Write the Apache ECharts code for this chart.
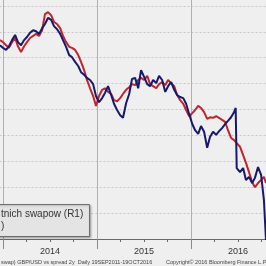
<!DOCTYPE html>
<html>
<head>
<meta charset="utf-8">
<script src="https://cdn.jsdelivr.net/npm/echarts@6/dist/echarts.min.js"></script>
<style>
html,body{margin:0;padding:0;background:#efefef;}
#c{width:266px;height:266px;}
</style>
</head>
<body>
<div id="c"></div>
<script>
// Sample dates (shared by both series)
var dates = [
'2013-12-20','2014-01-01','2014-01-13','2014-01-24','2014-02-05','2014-02-17','2014-02-28','2014-03-12','2014-03-24','2014-04-04',
'2014-04-16','2014-04-28','2014-05-09','2014-05-21','2014-06-02','2014-06-13','2014-06-25','2014-07-07','2014-07-18','2014-07-30',
'2014-08-11','2014-08-22','2014-09-03','2014-09-15','2014-09-26','2014-10-08','2014-10-20','2014-10-31','2014-11-12','2014-11-23',
'2014-12-05','2014-12-17','2014-12-28','2015-01-09','2015-01-21','2015-02-01','2015-02-13','2015-02-25','2015-03-08','2015-03-20',
'2015-04-01','2015-04-12','2015-04-24','2015-05-06','2015-05-17','2015-05-29','2015-06-10','2015-06-21','2015-07-03','2015-07-15',
'2015-07-26','2015-08-07','2015-08-19','2015-08-30','2015-09-11','2015-09-23','2015-10-04','2015-10-16','2015-10-28','2015-11-08',
'2015-11-20','2015-12-02','2015-12-13','2015-12-25','2016-01-06','2016-01-17','2016-01-29','2016-02-09','2016-02-21','2016-03-04',
'2016-03-15','2016-03-27','2016-04-08','2016-04-19','2016-05-01','2016-05-13','2016-05-24','2016-06-05','2016-06-17','2016-06-23',
'2016-06-27','2016-07-10','2016-07-22','2016-08-02','2016-08-14','2016-08-26','2016-09-06','2016-09-18','2016-09-30','2016-10-11',
'2016-10-19'
];
// Navy series
var navyValues = [
1.574,1.569,1.565,1.572,1.584,1.594,1.580,1.574,1.584,1.590,
1.598,1.603,1.601,1.596,1.607,1.615,1.627,1.623,1.611,1.605,
1.596,1.584,1.571,1.555,1.551,1.542,1.534,1.522,1.517,1.511,
1.507,1.499,1.476,1.464,1.472,1.482,1.495,1.478,1.461,1.449,
1.439,1.434,1.462,1.480,1.509,1.511,1.491,1.526,1.513,1.499,
1.495,1.507,1.501,1.515,1.507,1.484,1.495,1.503,1.488,1.478,
1.474,1.472,1.461,1.441,1.422,1.410,1.403,1.418,1.407,1.376,
1.397,1.407,1.401,1.408,1.414,1.422,1.428,1.435,1.445,1.453,
1.337,1.329,1.337,1.314,1.320,1.308,1.318,1.339,1.324,1.275,
1.198
];
// Red series
var redValues = [
1.584,1.580,1.574,1.569,1.580,1.588,1.572,1.561,1.572,1.580,
1.588,1.592,1.596,1.592,1.603,1.634,1.638,1.632,1.619,1.615,
1.607,1.592,1.580,1.571,1.569,1.565,1.555,1.542,1.526,1.507,
1.491,1.476,1.457,1.476,1.488,1.491,1.484,1.480,1.468,1.466,
1.472,1.480,1.488,1.493,1.499,1.497,1.507,1.511,1.507,1.515,
1.499,1.495,1.491,1.499,1.503,1.497,1.507,1.501,1.495,1.478,
1.468,1.461,1.449,1.437,1.443,1.449,1.457,1.453,1.445,1.432,
1.435,1.434,1.437,1.434,1.430,1.426,1.410,1.395,1.391,1.389,
1.385,1.378,1.362,1.347,1.329,1.310,1.300,1.308,1.314,1.320,
1.308
];
var yearLabels = ['2014','2015','2016'];
var legendLines = ['tnich swapow (R1)', ')'];
var captionLeft = 'swap) GBP/USD vs spread 2y  Daily 19SEP2011-19OCT2016';
var captionRight = 'Copyright\u00a9 2016 Bloomberg Finance L.P.';

function toYear(s){
  var p = s.split('-').map(Number);
  var a = Date.UTC(p[0],0,1), b = Date.UTC(p[0]+1,0,1);
  return p[0] + (Date.UTC(p[0],p[1]-1,p[2]) - a)/(b - a);
}
function pairs(vals){ return dates.map(function(d,i){ return [toYear(d), vals[i]]; }); }

var chart = echarts.init(document.getElementById('c'), null, {renderer:'canvas'});
var font = 'Liberation Sans, Arial, sans-serif';
chart.setOption({
  backgroundColor:'#efefef',
  animation:false,
  grid:[
    {left:-20.5, right:0, top:-20, bottom:27, outerBoundsMode:'none', containLabel:false},
    {left:-91, right:0, top:-20, bottom:27, outerBoundsMode:'none', containLabel:false}
  ],
  xAxis:[
    {type:'value', gridIndex:0, min:2013.75, max:2016.798, interval:0.25,
     axisLine:{show:true, onZero:false, lineStyle:{color:'#6a6a6a', width:1}},
     axisTick:{show:true, length:3, lineStyle:{color:'#6a6a6a'}},
     axisLabel:{show:true, margin:8, fontSize:9, color:'#333', fontFamily:font,
       showMinLabel:false, showMaxLabel:false,
       formatter:function(v){ var f = Math.round((v - Math.floor(v))*100); return f===50 ? yearLabels[Math.floor(v)-2014] || '' : ''; }},
     splitLine:{show:false}},
    {type:'value', gridIndex:1, min:2013, max:2016.798, interval:1,
     axisLine:{show:false, onZero:false}, axisTick:{show:true, length:10, lineStyle:{color:'#8a8a8a'}}, axisLabel:{show:false},
     splitLine:{show:true, lineStyle:{color:'#b0b0b0', width:1, type:'solid'}}}
  ],
  yAxis:[
    {type:'value', gridIndex:0, min:1.20, max:1.70, interval:0.05,
     axisLine:{show:false}, axisTick:{show:false}, axisLabel:{show:false},
     splitLine:{show:true, lineStyle:{color:'#c6c6c6', width:1, type:[2,2]}}},
    {type:'value', gridIndex:1, min:0, max:1, axisLine:{show:false}, axisTick:{show:false}, axisLabel:{show:false}, splitLine:{show:false}}
  ],
  series:[
    {type:'line', xAxisIndex:0, yAxisIndex:0, data:pairs(redValues), showSymbol:false, symbol:'none',
     lineStyle:{color:'#c0252c', width:2}, z:3},
    {type:'line', xAxisIndex:0, yAxisIndex:0, data:pairs(navyValues), showSymbol:false, symbol:'none',
     lineStyle:{color:'#17196c', width:2}, z:4}
  ],
  graphic:[
    {type:'rect', left:-5, top:204, shape:{width:94, height:32}, z:10,
     style:{fill:'#e4e4e4', stroke:'#6e6e6e', lineWidth:1, shadowBlur:2, shadowColor:'rgba(0,0,0,0.25)', shadowOffsetX:1, shadowOffsetY:1}},
    {type:'text', left:1, top:209, z:11, style:{text:legendLines[0], fill:'#333', font:'10px '+font}},
    {type:'text', left:1, top:221, z:11, style:{text:legendLines[1], fill:'#333', font:'10px '+font}},
    {type:'text', left:1, top:259, z:11, style:{text:captionLeft, fill:'#444', font:'5.5px '+font}},
    {type:'text', left:166, top:259, z:11, style:{text:captionRight, fill:'#444', font:'5.5px '+font}}
  ]
});
</script>
</body>
</html>
